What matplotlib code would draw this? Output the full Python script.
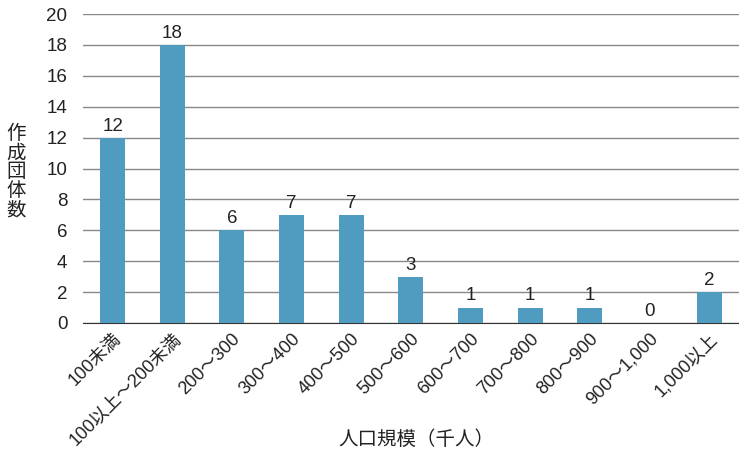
import matplotlib
matplotlib.use("Agg")
import matplotlib.pyplot as plt

plt.rcParams['font.family'] = ['Liberation Sans', 'Noto Sans CJK JP', 'DejaVu Sans']

# データ
categories = ['100未満', '100以上～200未満', '200～300', '300～400', '400～500',
              '500～600', '600～700', '700～800', '800～900', '900～1,000', '1,000以上']
counts = [12, 18, 6, 7, 7, 3, 1, 1, 1, 0, 2]
yticks = [0, 2, 4, 6, 8, 10, 12, 14, 16, 18, 20]

fig = plt.figure(figsize=(7.39, 4.53), dpi=100)
ax = fig.add_axes([0.112, 0.287, 0.888, 0.682])

x = list(range(len(categories)))
ax.bar(x, counts, width=0.42, color='#4f9cc0', zorder=3)

for xi, v in zip(x, counts):
    ax.text(xi, v + 0.2, str(v), ha='center', va='bottom', fontsize=13.5, color='#222222')

ax.set_xlim(-0.5, len(categories) - 0.5)
ax.set_ylim(0, 20)
ax.set_yticks(yticks)
ax.yaxis.grid(True, color='#888888', linewidth=1)
ax.set_axisbelow(True)
for s in ['top', 'right', 'left']:
    ax.spines[s].set_visible(False)
ax.spines['bottom'].set_color('#333333')
ax.tick_params(axis='both', length=0, colors='#222222')
ax.tick_params(axis='y', pad=11, labelsize=13.5)
ax.tick_params(axis='x', pad=5, labelsize=13)

ax.set_xticks(x)
ax.set_xticklabels(categories, rotation=45, ha='right', rotation_mode='anchor')

fig.text(0.022, 0.62, '作\n成\n団\n体\n数', ha='center', va='center', fontsize=14,
         linespacing=1.1, color='#222222')
fig.text(0.563, 0.03, '人口規模（千人）', ha='center', va='center', fontsize=14, color='#222222')

fig.savefig('out.png', dpi=100)
